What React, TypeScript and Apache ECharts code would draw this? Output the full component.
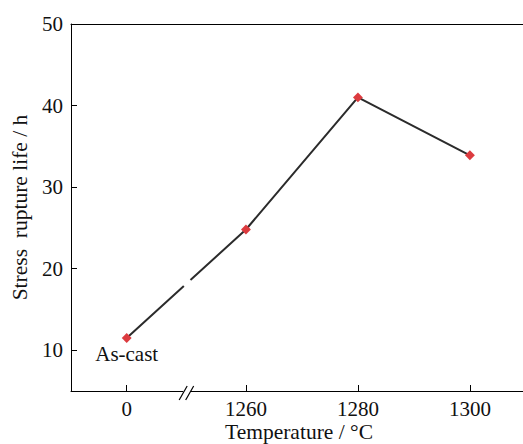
import React, { useEffect, useRef } from "react";
import * as echarts from "echarts";

// Heat-treatment temperature (0 = as-cast) and stress rupture life
const temperatures = [0, 1260, 1280, 1300];
const tickLabels = ["0", "1260", "1280", "1300"];
const lifeHours = [11.5, 24.8, 41.0, 33.9];
const yTicks = [10, 20, 30, 40, 50];

// Broken x axis: the as-cast sample sits left of the break;
// the plot runs past the right edge of the figure
const X_MIN = 1228.75;
const X_MAX = 1312.7;
const AS_CAST_POS = 1238.7;
const BREAK_POS = 1249.5;

const axisPos = (t: number) => (t === 0 ? AS_CAST_POS : t);
const tickPositions = temperatures.map(axisPos);

const FONT = "'Liberation Serif', 'Times New Roman', serif";
const INK = "#111";

export default function App() {
  const ref = useRef<HTMLDivElement>(null);

  useEffect(() => {
    if (!ref.current) return;
    const chart = echarts.init(ref.current, undefined, { renderer: "svg" });
    const data = temperatures.map((t, i) => [axisPos(t), lifeHours[i]]);

    chart.setOption({
      animation: false,
      backgroundColor: "#fff",
      grid: {
        left: 71,
        top: 24,
        width: 470,
        height: 367,
        outerBoundsMode: "none",
        containLabel: false,
        show: false,
      },
      xAxis: [
        {
          type: "value",
          min: X_MIN,
          max: X_MAX,
          name: "Temperature / °C",
          nameLocation: "start",
          nameGap: 0,
          nameTextStyle: {
            fontFamily: FONT,
            fontSize: 21.5,
            color: INK,
            align: "center",
            verticalAlign: "top",
            padding: [0, 0, 0, 0],
          },
          axisLine: { show: true, lineStyle: { color: "#000", width: 1 } },
          axisTick: {
            show: true,
            inside: true,
            length: 6,
            customValues: tickPositions,
            lineStyle: { color: "#000" },
          },
          axisLabel: {
            customValues: tickPositions,
            margin: 7,
            fontFamily: FONT,
            fontSize: 21,
            color: INK,
            formatter: (v: number) => {
              const i = tickPositions.findIndex((p) => Math.abs(p - v) < 1e-6);
              return i >= 0 ? tickLabels[i] : "";
            },
          },
          splitLine: { show: false },
        },
        {
          // plain frame line along the top of the plot
          type: "value",
          position: "top",
          min: X_MIN,
          max: X_MAX,
          axisLine: { show: true, onZero: false, lineStyle: { color: "#000", width: 1 } },
          axisTick: { show: false },
          axisLabel: { show: false },
          splitLine: { show: false },
        },
      ],
      yAxis: {
        type: "value",
        min: 5,
        max: 50,
        name: "Stress\u00a0 rupture life / h",
        nameLocation: "middle",
        nameGap: 37,
        nameRotate: 90,
        nameTextStyle: { fontFamily: FONT, fontSize: 21.5, color: INK },
        axisLine: { show: true, lineStyle: { color: "#000", width: 1 } },
        axisTick: {
          show: true,
          inside: true,
          length: 6,
          customValues: yTicks,
          lineStyle: { color: "#000" },
        },
        axisLabel: {
          customValues: yTicks,
          margin: 8,
          fontFamily: FONT,
          fontSize: 21,
          color: INK,
        },
        splitLine: { show: false },
      },
      series: [
        {
          type: "line",
          xAxisIndex: 0,
          data: data.map((d, i) =>
            i === 0
              ? {
                  value: d,
                  label: {
                    show: true,
                    position: "bottom",
                    distance: 1,
                    formatter: "As-cast",
                    fontFamily: FONT,
                    fontSize: 21,
                    color: INK,
                  },
                }
              : d
          ),
          symbol: "rect",
          symbolSize: 7,
          symbolRotate: 45,
          lineStyle: { color: "#2b2b2b", width: 2 },
          itemStyle: { color: "#dc3b3f" },
          z: 3,
        },
      ],
    });

    // Break marks on the x axis and a matching gap in the first segment
    const p0 = chart.convertToPixel({ gridIndex: 0 }, data[0]) as number[];
    const p1 = chart.convertToPixel({ gridIndex: 0 }, data[1]) as number[];
    const bp = chart.convertToPixel({ gridIndex: 0 }, [BREAK_POS, 5]) as number[];
    const bx = bp[0];
    const ay = bp[1];
    const t = (bx - p0[0]) / (p1[0] - p0[0]);
    const gy = p0[1] + t * (p1[1] - p0[1]);
    const dx = p1[0] - p0[0];
    const dy = p1[1] - p0[1];
    const len = Math.hypot(dx, dy);
    const ux = dx / len;
    const uy = dy / len;
    const nx = -uy;
    const ny = ux;
    const ha = 4.5;
    const hn = 3;
    const gap = [
      [bx - ux * ha - nx * hn, gy - uy * ha - ny * hn],
      [bx + ux * ha - nx * hn, gy + uy * ha - ny * hn],
      [bx + ux * ha + nx * hn, gy + uy * ha + ny * hn],
      [bx - ux * ha + nx * hn, gy - uy * ha + ny * hn],
    ];

    chart.setOption({
      xAxis: [{ name: "" }, {}],
      graphic: [
        {
          // x-axis title, centred under the visible part of the axis
          type: "text",
          x: 299,
          y: ay + 30,
          style: {
            text: "Temperature / °C",
            font: `21.5px ${FONT}`,
            fill: INK,
            align: "center",
            verticalAlign: "top",
          },
          z: 12,
        },
        {
          type: "polygon",
          shape: { points: gap },
          style: { fill: "#fff" },
          z: 10,
        },
        {
          type: "rect",
          shape: { x: bx - 4, y: ay - 2, width: 7, height: 4 },
          style: { fill: "#fff" },
          z: 10,
        },
        {
          type: "line",
          shape: { x1: bx - 8, y1: ay + 9, x2: bx, y2: ay - 5 },
          style: { stroke: "#000", lineWidth: 1.2 },
          z: 11,
        },
        {
          type: "line",
          shape: { x1: bx - 1.5, y1: ay + 9, x2: bx + 6.5, y2: ay - 5 },
          style: { stroke: "#000", lineWidth: 1.2 },
          z: 11,
        },
      ],
    });

    return () => chart.dispose();
  }, []);

  return (
    <div
      ref={ref}
      style={{ position: "fixed", left: 0, top: 0, width: 523, height: 444 }}
    />
  );
}
